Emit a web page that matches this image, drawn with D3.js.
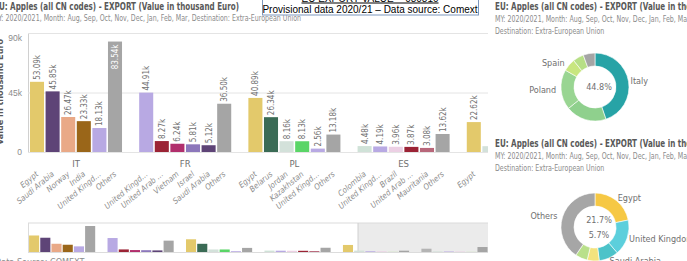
<!DOCTYPE html>
<html>
<head>
<meta charset="utf-8">
<script src="https://cdn.jsdelivr.net/npm/d3@7"></script>
<style>
body { margin: 0; background: #fff; overflow: hidden; }
svg { display: block; font-family: "Liberation Sans Narrow", "DejaVu Sans Condensed", Roboto, sans-serif; }
</style>
</head>
<body>
<svg id="chart" width="687" height="261"></svg>
<script>
// exporters shown as groups, top 5 destinations + Others each
var groups = ["IT", "FR", "PL", "ES", "GR", "NL"];
var itNames = ["Egypt", "Saudi Arabia", "Norway", "India", "United Kingdom", "Others"];
var itValues = [53.09, 45.85, 26.47, 23.33, 18.13, 83.54];
var frNames = ["United Kingdom", "United Arab Emirates", "Vietnam", "Israel", "Saudi Arabia", "Others"];
var frValues = [44.91, 8.27, 6.24, 5.81, 5.12, 36.50];
var plNames = ["Egypt", "Belarus", "Jordan", "Kazakhstan", "United Kingdom", "Others"];
var plValues = [40.89, 26.34, 8.16, 8.13, 2.56, 13.18];
var esNames = ["Colombia", "United Kingdom", "Brazil", "United Arab Emirates", "Mauritania", "Others"];
var esValues = [4.48, 4.19, 3.96, 3.87, 3.08, 13.62];
var grNames = ["Egypt", "Jordan", "United Kingdom", "Brazil", "Libya", "Others"];
var grValues = [22.62, 4.4, 2.3, 2.1, 1.6, 4.2];
var nlNames = ["Hong Kong", "Jordan", "United Kingdom", "Brazil", "Libya", "Others"];
var nlValues = [10.6, 2.0, 1.6, 1.5, 1.3, 16.0];

var yTicks = [0, 45, 90];
var yTickLabels = ["0", "45k", "90k"];

var colorNames = ["Egypt", "Saudi Arabia", "Norway", "India", "United Kingdom", "Others",
	"United Arab Emirates", "Vietnam", "Israel", "Belarus", "Jordan", "Kazakhstan",
	"Colombia", "Brazil", "Mauritania", "Libya", "Hong Kong"];
var colorValues = ["#e3c96b", "#5e4477", "#e9a987", "#9a6619", "#b8a9e3", "#a5a5a5",
	"#9b2335", "#b12f6c", "#8c77bb", "#3a6b55", "#d3e1da", "#5ad567",
	"#d0e2d8", "#ecd0e4", "#b8677a", "#d9e6cf", "#b4b4b4"];

// donut charts (share in %)
var exporterNames = ["Italy", "France", "Poland", "Spain", "Greece", "Others"];
var exporterShares = [44.8, 19.4, 19.0, 6.0, 5.2, 5.6];
var exporterColors = ["#27a3a6", "#8fd08d", "#99d592", "#c8e67f", "#b7df86", "#a5a5a5"];
var exporterLabelled = [true, false, true, true, false, false];

var destNames = ["Egypt", "United Kingdom", "Saudi Arabia", "Norway", "Belarus", "Others"];
var destShares = [21.7, 17.0, 9.3, 5.7, 5.8, 40.5];
var destColors = ["#f6c844", "#5ccfdc", "#4cc3c9", "#f3e37e", "#b9e08a", "#a6a6a6"];
var destLabelled = [true, true, true, false, false, true];

var svg = d3.select("#chart");
var titleText = "EU: Apples (all CN codes) - EXPORT (Value in thousand Euro)";
var subText = "MY: 2020/2021, Month: Aug, Sep, Oct, Nov, Dec, Jan, Feb, Mar";

// squeeze text to the narrow Qlik look
function fitText(sel, scale) {
	sel.each(function() {
		var w = this.getComputedTextLength();
		d3.select(this).attr("textLength", w * scale).attr("lengthAdjust", "spacingAndGlyphs");
	});
	return sel;
}

function shortName(n) {
	return n.length > 12 ? n.slice(0, 12) + "\u2026" : n;
}

// ---------- left panel: grouped bar chart ----------
var panelRight = 488;
svg.append("clipPath").attr("id", "leftClip")
	.append("rect").attr("x", 0).attr("y", 0).attr("width", panelRight).attr("height", 261);
var left = svg.append("g").attr("clip-path", "url(#leftClip)");

var t1 = left.append("text").attr("x", -6).attr("y", 9.5)
	.style("font-size", "11px").style("font-weight", "bold").style("fill", "#595959")
	.text(titleText);
var titleScale = 245 / t1.node().getComputedTextLength();
fitText(t1, titleScale);

var s1 = left.append("text").attr("x", -7).attr("y", 20.5)
	.style("font-size", "9px").style("fill", "#8c8c8c")
	.text(subText + ", Destination: Extra-European Union");
var subScale = 308 / s1.node().getComputedTextLength();
fitText(s1, subScale);

var rows = [];
var allNames = [itNames, frNames, plNames, esNames, grNames, nlNames];
var allValues = [itValues, frValues, plValues, esValues, grValues, nlValues];
groups.forEach(function(g, gi) {
	allNames[gi].forEach(function(n, j) {
		rows.push({group: g, name: n, value: allValues[gi][j], slot: gi * 7 + j});
	});
});
var nSlots = groups.length * 7;

var color = d3.scaleOrdinal().domain(colorNames).range(colorValues);

var step = 15.6;
var x = d3.scaleBand().domain(d3.range(nSlots))
	.range([29.2, 29.2 + nSlots * step]).paddingInner(0.1).paddingOuter(0.05);
var y = d3.scaleLinear().domain([0, 90]).range([152, 33]);

// only bars fully in the scroll window get text
var shown = rows.filter(function(d) { return x(d.slot) + x.bandwidth() < panelRight; });

var yAxis = left.append("g").attr("transform", "translate(28,0)")
	.call(d3.axisLeft(y).tickValues(yTicks).tickSize(-460)
		.tickFormat(function(d, i) { return yTickLabels[i]; }));
yAxis.select(".domain").attr("stroke", "#d0d0d0");
yAxis.selectAll(".tick line").attr("stroke", "#e4e4e4");
yAxis.selectAll(".tick text").attr("x", -6).style("font-size", "8.5px").style("fill", "#8c8c8c")
	.style("font-family", "inherit")
	.attr("dy", function(d) { return d == 90 ? "0.9em" : "0.32em"; });

left.append("text")
	.attr("transform", "translate(2.5,92) rotate(-90)")
	.attr("text-anchor", "middle")
	.style("font-size", "9px").style("font-weight", "bold").style("fill", "#595959")
	.text("Value in thousand Euro");

left.selectAll("rect.bar").data(rows).enter().append("rect")
	.attr("class", "bar")
	.attr("x", function(d) { return x(d.slot); })
	.attr("width", x.bandwidth())
	.attr("y", function(d) { return y(d.value); })
	.attr("height", function(d) { return y(0) - y(d.value); })
	.style("fill", function(d) { return color(d.name); });

left.selectAll("text.val").data(shown).enter().append("text")
	.attr("class", "val")
	.style("font-size", "8px")
	.text(function(d) { return d.value.toFixed(2) + "k"; })
	.each(function(d) {
		var t = d3.select(this);
		var w = this.getComputedTextLength();
		var cx = x(d.slot) + x.bandwidth() / 2;
		var top = y(d.value);
		var inside = top - 3 - w < 30;
		t.attr("transform", "translate(" + (cx + 3) + "," + (inside ? top + 3 : top - 2) + ") rotate(-90)")
			.attr("text-anchor", inside ? "end" : "start")
			.style("fill", inside ? "#ffffff" : "#707070");
	});

// group labels that fall inside the visible window
left.selectAll("text.grp").data(groups.filter(function(g, gi) { return x(gi * 7 + 5) < 470; }))
	.enter().append("text")
	.attr("class", "grp")
	.attr("x", function(g, gi) { return (x(gi * 7) + x(gi * 7 + 5) + x.bandwidth()) / 2; })
	.attr("y", 167)
	.attr("text-anchor", "middle")
	.style("font-size", "9.5px").style("fill", "#707070")
	.text(function(g) { return g; });

left.selectAll("text.cat").data(shown).enter().append("text")
	.attr("class", "cat")
	.attr("transform", function(d) {
		return "translate(" + (x(d.slot) + x.bandwidth() / 2 + 2) + ",175) rotate(-40)";
	})
	.attr("text-anchor", "end")
	.style("font-size", "8px").style("font-style", "italic").style("fill", "#8c8c8c")
	.text(function(d) { return shortName(d.name); });

// scroll navigator
var xm = d3.scaleBand().domain(d3.range(nSlots))
	.range([28.5, 28.5 + nSlots * 11.21]).paddingInner(0.1).paddingOuter(0.05);
var ym = d3.scaleLinear().domain([0, 90]).range([252, 224]);
left.append("rect").attr("x", 358).attr("y", 223).attr("width", 140).attr("height", 29.5)
	.style("fill", "#ebebeb");
left.append("rect").attr("x", 28.5).attr("y", 223).attr("width", 470).attr("height", 29.5)
	.style("fill", "none").style("stroke", "#dcdcdc");
left.append("line").attr("x1", 358).attr("x2", 358).attr("y1", 223).attr("y2", 252.5)
	.style("stroke", "#d0d0d0");
left.selectAll("rect.mini").data(rows).enter().append("rect")
	.attr("class", "mini")
	.attr("x", function(d) { return xm(d.slot); })
	.attr("width", xm.bandwidth())
	.attr("y", function(d) { return ym(d.value); })
	.attr("height", function(d) { return ym(0) - ym(d.value); })
	.style("fill", function(d) { return color(d.name); });

left.append("text").attr("x", -5).attr("y", 265)
	.style("font-size", "9px").style("fill", "#8c8c8c")
	.text("Data Source: COMEXT");

// header note box
var note = svg.append("g");
note.append("rect").attr("x", 262.5).attr("y", -10).attr("width", 216).attr("height", 25)
	.style("fill", "#fff").style("stroke", "#7d97bd");
note.append("text").attr("x", 370).attr("y", 1.5).attr("text-anchor", "middle")
	.style("font-family", "'Liberation Sans', Arial, sans-serif").style("font-size", "10px")
	.style("text-decoration", "underline").style("fill", "#000")
	.text("EU EXPORT VALUE  = 080810");
note.append("text").attr("x", 370).attr("y", 13).attr("text-anchor", "middle")
	.style("font-family", "'Liberation Sans', Arial, sans-serif").style("font-size", "10px")
	.style("fill", "#000")
	.text("Provisional data 2020/21 \u2013 Data source: Comext");

// ---------- right panels: donuts ----------
function donut(top, names, shares, colors, labelled, cx, cy, centerTexts) {
	var g = svg.append("g");
	var tt = g.append("text").attr("x", 495).attr("y", top + 10)
		.style("font-size", "11px").style("font-weight", "bold").style("fill", "#595959")
		.text(titleText);
	fitText(tt, titleScale);
	var st = g.append("text").attr("x", 495).attr("y", top + 21.5)
		.style("font-size", "9px").style("fill", "#8c8c8c").text(subText);
	fitText(st, subScale);
	var st2 = g.append("text").attr("x", 495).attr("y", top + 34)
		.style("font-size", "9px").style("fill", "#8c8c8c").text("Destination: Extra-European Union");
	fitText(st2, subScale);

	var pie = d3.pie().sort(null).value(function(d) { return d; });
	var arcs = pie(shares);
	var arc = d3.arc().innerRadius(21).outerRadius(34);
	var pg = g.append("g").attr("transform", "translate(" + cx + "," + cy + ")");
	pg.selectAll("path").data(arcs).enter().append("path")
		.attr("d", arc)
		.style("fill", function(d, i) { return colors[i]; })
		.style("stroke", "#fff").style("stroke-width", 0.6);
	pg.selectAll("text.lbl").data(arcs).enter().filter(function(d, i) { return labelled[i]; })
		.append("text")
		.attr("class", "lbl")
		.attr("x", function(d) { var a = (d.startAngle + d.endAngle) / 2; return Math.sin(a) * 36 + (Math.sin(a) > 0 ? 0 : -3); })
		.attr("y", function(d) { var a = (d.startAngle + d.endAngle) / 2; return -Math.cos(a) * 37; })
		.attr("dy", "0.35em")
		.attr("text-anchor", function(d) { return Math.sin((d.startAngle + d.endAngle) / 2) > 0 ? "start" : "end"; })
		.style("font-size", "9px").style("fill", "#707070")
		.text(function(d) { return names[d.index]; });
	pg.selectAll("text.ctr").data(centerTexts).enter().append("text")
		.attr("class", "ctr")
		.attr("x", 4)
		.attr("y", function(d, i) { return (i - (centerTexts.length - 1) / 2) * 15; })
		.attr("dy", "0.35em")
		.attr("text-anchor", "middle")
		.style("font-size", "9px").style("fill", "#707070")
		.text(function(d) { return d; });
}

donut(0, exporterNames, exporterShares, exporterColors, exporterLabelled, 595, 87, ["44.8%"]);
donut(137, destNames, destShares, destColors, destLabelled, 595, 227, ["21.7%", "5.7%"]);
</script>
</body>
</html>
